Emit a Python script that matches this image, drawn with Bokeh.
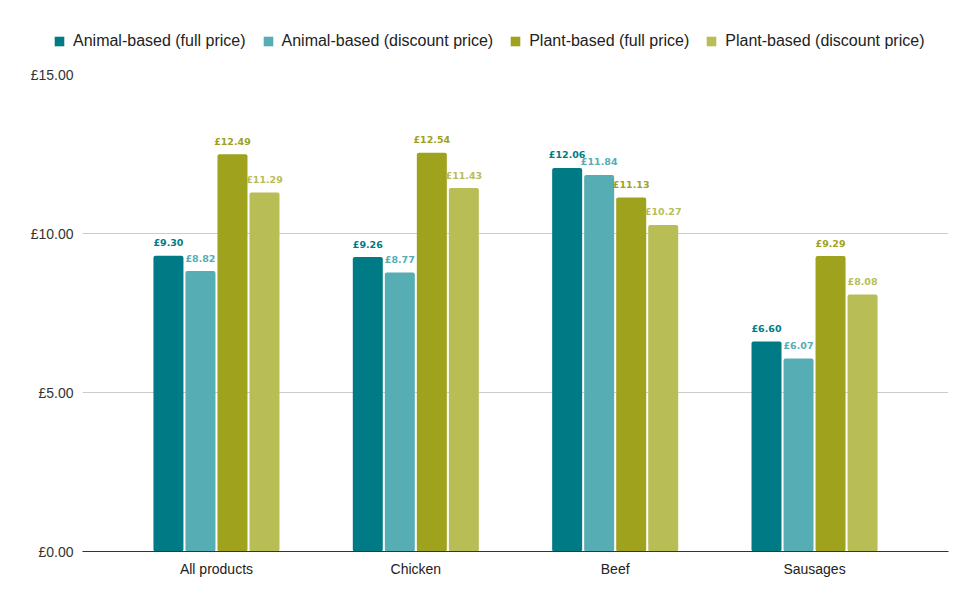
from bokeh.plotting import figure
from bokeh.layouts import column
from bokeh.models import ColumnDataSource, FixedTicker, Legend, LegendItem
from bokeh.core.properties import value
from bokeh.embed import file_html
from bokeh.resources import INLINE

categories = ["All products", "Chicken", "Beef", "Sausages"]
series_names = ["Animal-based (full price)", "Animal-based (discount price)",
                "Plant-based (full price)", "Plant-based (discount price)"]
animal_full = [9.30, 9.26, 12.06, 6.60]
animal_discount = [8.82, 8.77, 11.84, 6.07]
plant_full = [12.49, 12.54, 11.13, 9.29]
plant_discount = [11.29, 11.43, 10.27, 8.08]
y_ticks = [0, 5, 10, 15]
y_tick_labels = ["£0.00", "£5.00", "£10.00", "£15.00"]

colors = ["#007B86", "#56ADB4", "#9FA21D", "#B9BD56"]
series_values = [animal_full, animal_discount, plant_full, plant_discount]

# legend strip above the chart
lg = figure(width=963, height=66, output_backend="svg", toolbar_location=None,
            x_axis_type=None, y_axis_type=None, x_range=(0, 1), y_range=(0, 1),
            min_border=0, min_border_left=0, min_border_right=0,
            min_border_top=0, min_border_bottom=0)
lg.frame_align = False
lg.outline_line_color = None
lg.xgrid.visible = False
lg.ygrid.visible = False

p = figure(width=963, height=523, output_backend="svg", toolbar_location=None,
           x_range=(-0.672, 3.672), y_range=(0, 15),
           min_border_left=82, min_border_right=15, min_border_top=8, min_border_bottom=38)
p.frame_align = False
p.outline_line_color = None
p.background_fill_color = "white"

bar_w = 0.1505
step = 0.1606
items = []
for i, (name, vals, col) in enumerate(zip(series_names, series_values, colors)):
    off = (i - 1.5) * step
    src = ColumnDataSource(dict(
        x=[k + off for k in range(len(categories))],
        top=vals,
        lbl=["£%.2f" % v for v in vals],
    ))
    p.vbar(x="x", top="top", width=bar_w, source=src, fill_color=col,
           line_color=None, border_radius=2)
    p.text(x="x", y="top", text="lbl", source=src, text_color=col,
           text_font=value("DejaVu Sans"), text_font_style="bold",
           text_font_size="9.5px", text_align="center", text_baseline="alphabetic",
           y_offset=-13)
    # zero-size stand-in so the legend swatch can be drawn in the legend strip
    dummy = lg.vbar(x=[0.5], top=[0], bottom=[0], width=0, fill_color=col, line_color=None)
    items.append(LegendItem(label=name, renderers=[dummy]))

legend = Legend(items=items, orientation="horizontal", location=(53, 16),
                glyph_width=12, glyph_height=12, label_standoff=8, spacing=16,
                padding=0, margin=0, border_line_color=None,
                background_fill_alpha=0,
                label_text_font="Liberation Sans", label_text_font_size="16px",
                label_text_color="#222222")
lg.add_layout(legend, "center")

p.xaxis.ticker = FixedTicker(ticks=list(range(len(categories))))
p.xaxis.major_label_overrides = {i: c for i, c in enumerate(categories)}
p.xaxis.axis_line_color = "#333333"
p.xaxis.axis_line_width = 1
p.xaxis.major_tick_line_color = None
p.xaxis.major_tick_out = 0
p.xaxis.major_tick_in = 0
p.xaxis.minor_tick_line_color = None
p.xaxis.major_label_standoff = 9
p.xaxis.major_label_text_font = "Liberation Sans"
p.xaxis.major_label_text_font_size = "14px"
p.xaxis.major_label_text_color = "#222222"

p.yaxis.ticker = FixedTicker(ticks=y_ticks)
p.yaxis.major_label_overrides = {t: l for t, l in zip(y_ticks, y_tick_labels)}
p.yaxis.axis_line_color = None
p.yaxis.major_tick_line_color = None
p.yaxis.major_tick_out = 0
p.yaxis.major_tick_in = 0
p.yaxis.minor_tick_line_color = None
p.yaxis.major_label_standoff = 9
p.yaxis.major_label_text_font = "Liberation Sans"
p.yaxis.major_label_text_font_size = "14px"
p.yaxis.major_label_text_color = "#333333"

p.xgrid.grid_line_color = None
p.ygrid.grid_line_color = "#CCCCCC"
p.ygrid.ticker = FixedTicker(ticks=y_ticks)

layout = column(lg, p, spacing=0)
open("out.html", "w").write(file_html(layout, INLINE))
